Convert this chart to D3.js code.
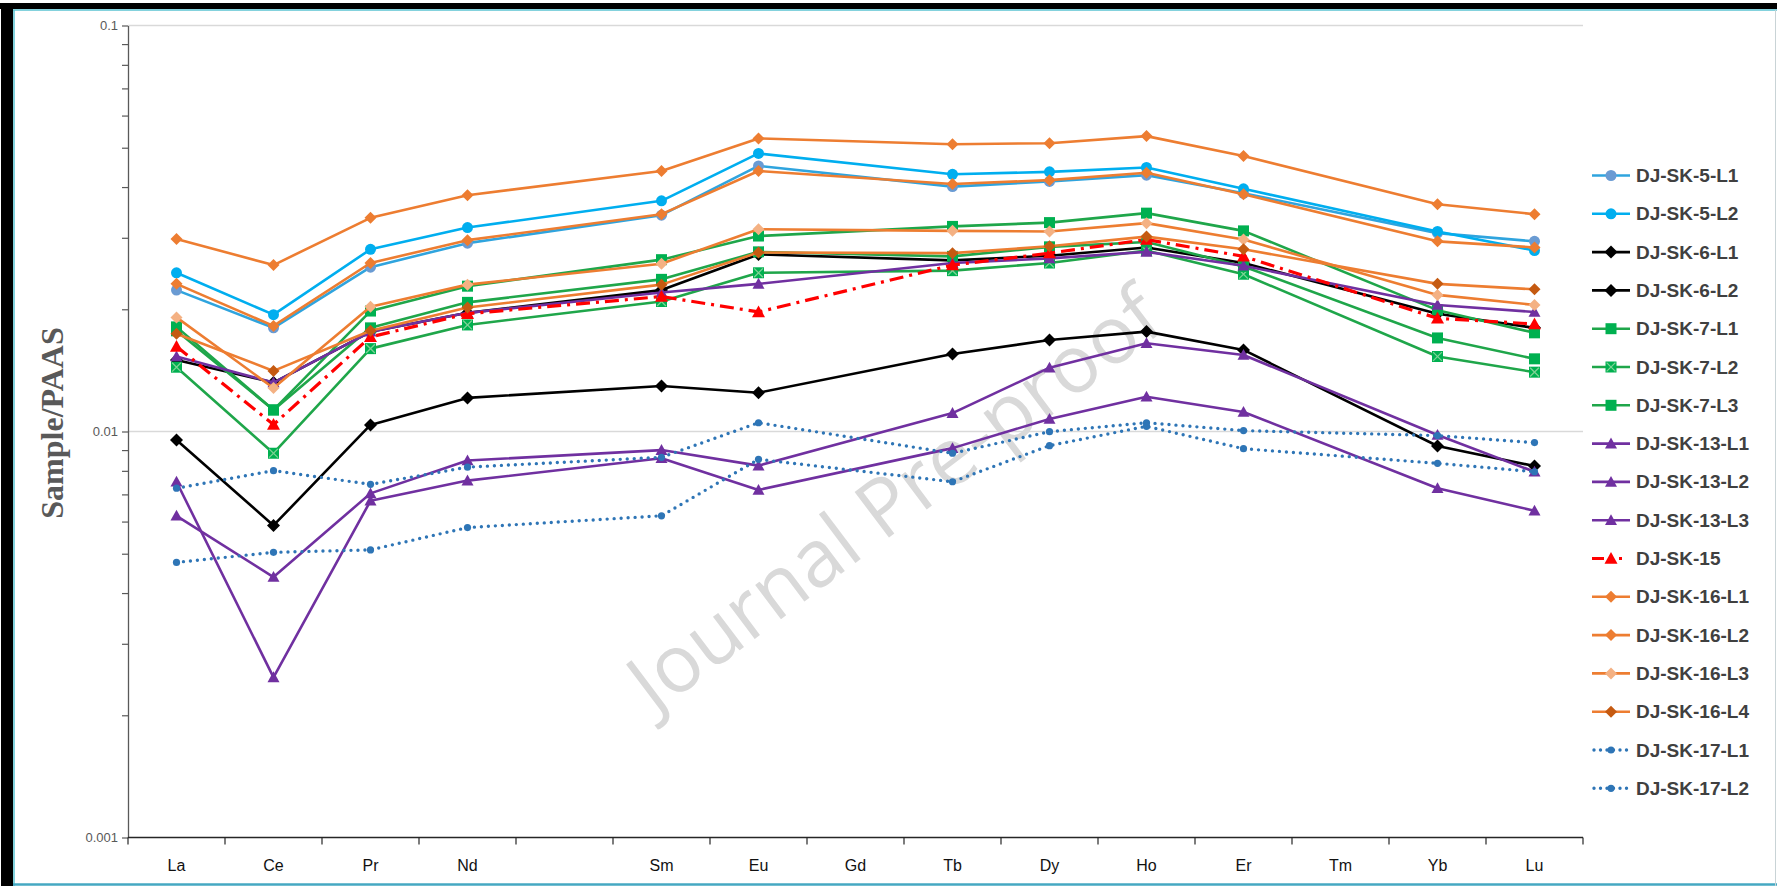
<!DOCTYPE html>
<html>
<head>
<meta charset="utf-8">
<script src="https://cdn.jsdelivr.net/npm/d3@7"></script>
<style>
  html, body { margin: 0; padding: 0; background: #fff; }
  svg { display: block; }
</style>
</head>
<body>
<svg id="chart" width="1777" height="886"></svg>
<script>
// REE slots along the x axis (the blank slot is Pm)
const categories = ["La", "Ce", "Pr", "Nd", "", "Sm", "Eu", "Gd", "Tb", "Dy", "Ho", "Er", "Tm", "Yb", "Lu"];
// Elements that carry a value in every sample
const measured = ["La", "Ce", "Pr", "Nd", "Sm", "Eu", "Tb", "Dy", "Ho", "Er", "Yb", "Lu"];

// Sample/PAAS normalised values, in the order of `measured`
const sk5L1  = [0.0223, 0.0180, 0.0254, 0.0291, 0.0341, 0.0451, 0.0401, 0.0413, 0.0428, 0.0386, 0.0308, 0.0294];
const sk5L2  = [0.0246, 0.0194, 0.0281, 0.0318, 0.0370, 0.0484, 0.0430, 0.0436, 0.0447, 0.0396, 0.0311, 0.0279];
const sk6L1  = [0.0150, 0.0132, 0.0176, 0.0196, 0.0223, 0.0273, 0.0264, 0.0271, 0.0284, 0.0260, 0.0195, 0.0180];
const sk6L2  = [0.00953, 0.00587, 0.01038, 0.0121, 0.01294, 0.01246, 0.01552, 0.0168, 0.01762, 0.01588, 0.00921, 0.00822];
const sk7L1  = [0.0181, 0.0113, 0.0198, 0.0228, 0.0265, 0.0303, 0.0320, 0.0327, 0.0345, 0.0312, 0.0199, 0.0175];
const sk7L2  = [0.0144, 0.00884, 0.0160, 0.0183, 0.0209, 0.0246, 0.0249, 0.0260, 0.0279, 0.0244, 0.0153, 0.0140];
const sk7L3  = [0.0177, 0.0113, 0.0180, 0.0208, 0.0237, 0.0277, 0.0270, 0.0285, 0.0293, 0.0255, 0.0170, 0.0151];
const sk13L1 = [0.0153, 0.0132, 0.0176, 0.0196, 0.0220, 0.0231, 0.0260, 0.0267, 0.0277, 0.0256, 0.0205, 0.0197];
const sk13L2 = [0.0062, 0.00438, 0.00704, 0.00848, 0.0090, 0.00824, 0.0111, 0.01436, 0.01649, 0.01543, 0.0098, 0.00796];
const sk13L3 = [0.00752, 0.00248, 0.00675, 0.00757, 0.00859, 0.00718, 0.0091, 0.01074, 0.01218, 0.01117, 0.00725, 0.00638];
const sk15   = [0.0162, 0.0104, 0.0171, 0.0195, 0.0215, 0.0197, 0.0257, 0.0275, 0.0297, 0.0270, 0.0190, 0.0184];
const sk16L1 = [0.0298, 0.0257, 0.0336, 0.0382, 0.0438, 0.0527, 0.0510, 0.0513, 0.0534, 0.0477, 0.0363, 0.0343];
const sk16L2 = [0.0231, 0.0182, 0.0260, 0.0296, 0.0343, 0.0438, 0.0407, 0.0416, 0.0434, 0.0384, 0.0294, 0.0284];
const sk16L3 = [0.0191, 0.0128, 0.0203, 0.0230, 0.0259, 0.0315, 0.0312, 0.0311, 0.0326, 0.0297, 0.0217, 0.0205];
const sk16L4 = [0.0174, 0.0141, 0.0177, 0.0202, 0.0230, 0.0276, 0.0275, 0.0286, 0.0302, 0.0281, 0.0231, 0.0224];
const sk17L1 = [0.00725, 0.00801, 0.00741, 0.00817, 0.00864, 0.01051, 0.00884, 0.00999, 0.01051, 0.01005, 0.00977, 0.00939];
const sk17L2 = [0.00476, 0.00504, 0.00511, 0.0058, 0.0062, 0.00854, 0.00752, 0.00923, 0.0103, 0.00907, 0.00835, 0.00796];

const seriesNames = ["DJ-SK-5-L1", "DJ-SK-5-L2", "DJ-SK-6-L1", "DJ-SK-6-L2", "DJ-SK-7-L1", "DJ-SK-7-L2", "DJ-SK-7-L3",
  "DJ-SK-13-L1", "DJ-SK-13-L2", "DJ-SK-13-L3", "DJ-SK-15", "DJ-SK-16-L1", "DJ-SK-16-L2", "DJ-SK-16-L3", "DJ-SK-16-L4",
  "DJ-SK-17-L1", "DJ-SK-17-L2"];
const seriesValues = [sk5L1, sk5L2, sk6L1, sk6L2, sk7L1, sk7L2, sk7L3, sk13L1, sk13L2, sk13L3, sk15,
  sk16L1, sk16L2, sk16L3, sk16L4, sk17L1, sk17L2];

// y-axis labelled decades
const yMajor = [0.001, 0.01, 0.1];

// ---- styling per series ----
const ORANGE = "#ED7D31", GREEN = "#1FA64A", PURPLE = "#7030A0", DOT = "#2E75B6";
const styles = [
  { line: "#2FA4DE", marker: "circle",  fill: "#6A9BD3", size: 5.5 },
  { line: "#00AEEF", marker: "circle",  fill: "#00AEEF", size: 5.5 },
  { line: "#000000", marker: "diamond", fill: "#000000", size: 6.5 },
  { line: "#000000", marker: "diamond", fill: "#000000", size: 6.5 },
  { line: GREEN,     marker: "square",  fill: "#00B050", size: 5.5 },
  { line: GREEN,     marker: "square",  fill: "#00B050", size: 5.5, cross: true },
  { line: GREEN,     marker: "square",  fill: "#00B050", size: 5.5 },
  { line: PURPLE,    marker: "triangle", fill: PURPLE, size: 6 },
  { line: PURPLE,    marker: "triangle", fill: PURPLE, size: 6 },
  { line: PURPLE,    marker: "triangle", fill: PURPLE, size: 6 },
  { line: "#FF0000", marker: "triangle", fill: "#FF0000", size: 6.5, dash: "14 6 3 6", width: 3.2 },
  { line: ORANGE,    marker: "diamond", fill: ORANGE,    size: 6 },
  { line: ORANGE,    marker: "diamond", fill: ORANGE,    size: 6 },
  { line: ORANGE,    marker: "diamond", fill: "#F4B183", size: 6 },
  { line: ORANGE,    marker: "diamond", fill: "#C55A11", size: 6 },
  { line: DOT,       marker: "circle",  fill: DOT,       size: 3.6, dash: "0 7", cap: "round", width: 3.4 },
  { line: DOT,       marker: "circle",  fill: DOT,       size: 3.6, dash: "0 7", cap: "round", width: 3.4 }
];

const svg = d3.select("#chart");
const W = 1777, H = 886;
const plot = { left: 128, right: 1583, top: 25.5, bottom: 837.5 };

// ---- page frame ----
svg.append("rect").attr("width", W).attr("height", H).attr("fill", "#fff");
svg.append("rect").attr("x", 0).attr("y", 3).attr("width", W).attr("height", 6).attr("fill", "#000");
svg.append("rect").attr("x", 1).attr("y", 3).attr("width", 12).attr("height", H - 3).attr("fill", "#000");
svg.append("line").attr("x1", 13).attr("x2", W).attr("y1", 10).attr("y2", 10).attr("stroke", "#5BC3D2").attr("stroke-width", 1.5);
svg.append("line").attr("x1", 14).attr("x2", 14).attr("y1", 10).attr("y2", H).attr("stroke", "#5BC3D2").attr("stroke-width", 1.5);
svg.append("line").attr("x1", 13).attr("x2", W).attr("y1", 884.5).attr("y2", 884.5).attr("stroke", "#45A8C2").attr("stroke-width", 2.5);
svg.append("line").attr("x1", 1775.5).attr("x2", 1775.5).attr("y1", 10).attr("y2", H).attr("stroke", "#C9D3D6").attr("stroke-width", 1);

// ---- scales ----
const x = d3.scaleBand().domain(categories).range([plot.left, plot.right]).paddingInner(0).paddingOuter(0);
const bw = x.bandwidth();
const cx = c => x(c) + bw / 2;
const y = d3.scaleLog().domain([0.001, 0.1]).range([plot.bottom, plot.top]);

// ---- gridlines ----
svg.append("g").selectAll("line").data(yMajor.filter(v => v > 0.001)).join("line")
  .attr("x1", plot.left).attr("x2", plot.right)
  .attr("y1", d => y(d)).attr("y2", d => y(d))
  .attr("stroke", "#D9D9D9").attr("stroke-width", 1.3);

// ---- watermark ----
svg.append("text")
  .attr("transform", "translate(892,496) rotate(-37)")
  .attr("text-anchor", "middle").attr("dominant-baseline", "central")
  .attr("font-family", "'Open Sans', 'Noto Sans', sans-serif")
  .attr("font-size", 80).attr("fill", "#D9D9D9")
  .text("Journal Pre-proof");

// ---- y axis (log, with minor ticks) ----
const yTicks = [];
[0.001, 0.01].forEach(dec => { for (let k = 1; k < 10; k++) yTicks.push(dec * k); });
yTicks.push(0.1);
const yAxis = d3.axisLeft(y).tickValues(yTicks).tickSize(6).tickSizeOuter(0)
  .tickFormat(d => {
    const m = yMajor.find(v => Math.abs(v - d) / v < 1e-6);
    return m === undefined ? "" : String(m);
  });
const gy = svg.append("g").attr("transform", `translate(${plot.left},0)`).call(yAxis);
gy.select(".domain").attr("stroke", "#595959").attr("stroke-width", 1.3);
gy.selectAll(".tick line").attr("stroke", "#595959").attr("stroke-width", 1.2);
gy.selectAll(".tick text").attr("font-family", "'Liberation Sans', Arial, sans-serif")
  .attr("font-size", 13).attr("fill", "#595959").attr("x", -10);

// ---- x axis ----
const gx = svg.append("g");
gx.append("line").attr("x1", plot.left).attr("x2", plot.right)
  .attr("y1", plot.bottom).attr("y2", plot.bottom)
  .attr("stroke", "#262626").attr("stroke-width", 1.5);
const boundaries = categories.map(c => x(c)).concat([x(categories[categories.length - 1]) + bw]);
gx.selectAll(".xt").data(boundaries).join("line").attr("class", "xt")
  .attr("x1", d => d).attr("x2", d => d)
  .attr("y1", plot.bottom).attr("y2", plot.bottom + 7)
  .attr("stroke", "#262626").attr("stroke-width", 1.2);
gx.selectAll(".xl").data(categories).join("text").attr("class", "xl")
  .attr("x", d => cx(d)).attr("y", 871)
  .attr("text-anchor", "middle")
  .attr("font-family", "'Liberation Sans', Arial, sans-serif")
  .attr("font-size", 16).attr("fill", "#111")
  .text(d => d);

// ---- y title ----
svg.append("text")
  .attr("transform", "translate(52,423) rotate(-90)")
  .attr("text-anchor", "middle").attr("dominant-baseline", "central")
  .attr("font-family", "'Liberation Serif', 'Times New Roman', serif")
  .attr("font-weight", "bold").attr("font-size", 32).attr("fill", "#595959")
  .text("Sample/PAAS");

// ---- marker shapes ----
function markerPath(type, s) {
  if (type === "circle") return d3.symbol(d3.symbolCircle, Math.PI * s * s)();
  if (type === "square") return `M${-s},${-s}H${s}V${s}H${-s}Z`;
  if (type === "diamond") return `M0,${-s}L${s},0L0,${s}L${-s},0Z`;
  if (type === "triangle") return `M0,${-s}L${s},${s * 0.8}L${-s},${s * 0.8}Z`;
  return "";
}
function drawMarker(g, st, px, py) {
  g.append("path").attr("d", markerPath(st.marker, st.size))
    .attr("transform", `translate(${px},${py})`)
    .attr("fill", st.fill);
  if (st.cross) {
    const s = st.size * 0.8;
    g.append("path").attr("d", `M${-s},${-s}L${s},${s}M${-s},${s}L${s},${-s}`)
      .attr("transform", `translate(${px},${py})`)
      .attr("stroke", "#7ED295").attr("stroke-width", 1.3).attr("fill", "none");
  }
}

// ---- series ----
const line = d3.line().x(d => cx(d.el)).y(d => y(d.v));
const gSeries = svg.append("g");
seriesValues.forEach((vals, i) => {
  const st = styles[i];
  const pts = measured.map((el, j) => ({ el, v: vals[j] }));
  const g = gSeries.append("g");
  g.append("path").datum(pts).attr("d", line)
    .attr("fill", "none").attr("stroke", st.line)
    .attr("stroke-width", st.width || 2.6)
    .attr("stroke-linejoin", "round")
    .attr("stroke-linecap", st.cap || "butt")
    .attr("stroke-dasharray", st.dash || null);
  pts.forEach(p => drawMarker(g, st, cx(p.el), y(p.v)));
});

// ---- legend ----
const legend = svg.append("g");
const legY0 = 175.5, legDy = 38.3, legX1 = 1592, legX2 = 1630, legText = 1636;
seriesNames.forEach((name, i) => {
  const st = styles[i];
  const ly = legY0 + i * legDy;
  const g = legend.append("g");
  g.append("line").attr("x1", legX1).attr("x2", legX2).attr("y1", ly).attr("y2", ly)
    .attr("stroke", st.line).attr("stroke-width", st.width || 2.6)
    .attr("stroke-linecap", st.cap || "butt")
    .attr("stroke-dasharray", st.dash ? (st.cap ? "0 6.5" : "12 15 3 30") : null)
    .attr("stroke-dashoffset", st.dash && st.cap ? -2 : 0);
  drawMarker(g, st, (legX1 + legX2) / 2, ly);
  g.append("text").attr("x", legText).attr("y", ly)
    .attr("dominant-baseline", "central")
    .attr("font-family", "'Liberation Sans', Arial, sans-serif")
    .attr("font-weight", "bold").attr("font-size", 19).attr("fill", "#404040")
    .text(name);
});
</script>
</body>
</html>
